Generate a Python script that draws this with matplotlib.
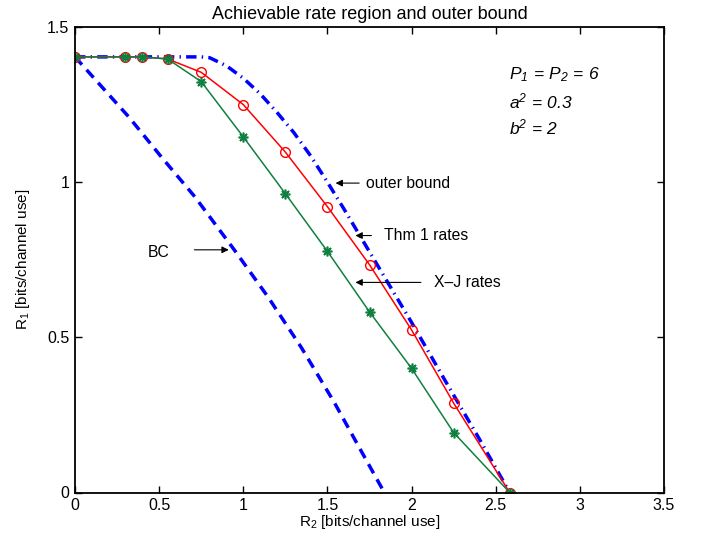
import matplotlib
matplotlib.use('Agg')
import matplotlib.pyplot as plt
import numpy as np

plt.rcParams['font.family'] = ['Liberation Sans', 'DejaVu Sans']
plt.rcParams['mathtext.fontset'] = 'custom'
plt.rcParams['mathtext.rm'] = 'Liberation Sans'
plt.rcParams['mathtext.it'] = 'Liberation Sans:italic'
plt.rcParams['mathtext.sf'] = 'Liberation Sans:italic'

# Thm 1 rates (red circles)
thm_r2 = [0, 0.3, 0.4, 0.55, 0.75, 1.0, 1.25, 1.5, 1.75, 2.0, 2.25, 2.583]
thm_r1 = [1.4037, 1.4037, 1.4037, 1.397, 1.354, 1.250, 1.097, 0.921, 0.734, 0.524, 0.288, 0.0]

# X-J rates (green stars)
xj_r2 = [0, 0.3, 0.4, 0.55, 0.75, 1.0, 1.25, 1.5, 1.75, 2.0, 2.25, 2.583]
xj_r1 = [1.4037, 1.4037, 1.4037, 1.397, 1.324, 1.146, 0.963, 0.777, 0.582, 0.400, 0.193, 0.0]

# outer bound (dash-dot)
ob_r2 = [0, 0.75, 0.8, 0.9, 1.0, 1.1, 1.2, 1.3, 1.4, 1.5, 1.6, 1.8, 2.0, 2.2, 2.4, 2.583]
ob_r1 = [1.4037, 1.4037, 1.401, 1.375, 1.335, 1.285, 1.225, 1.16, 1.085, 1.0, 0.912,
         0.73, 0.548, 0.36, 0.175, 0.0]

# BC region (dashed)
bc_r2 = [0, 0.12, 0.32, 0.515, 0.712, 0.949, 1.147, 1.344, 1.541, 1.689, 1.838]
bc_r1 = [1.4037, 1.331, 1.210, 1.080, 0.953, 0.780, 0.630, 0.468, 0.290, 0.145, 0.0]

xticks = [0, 0.5, 1, 1.5, 2, 2.5, 3, 3.5]
yticks = [0, 0.5, 1, 1.5]

fig = plt.figure(figsize=(7.04, 5.44), dpi=100)
ax = fig.add_axes([75/704, 1-492.5/544, (664-75)/704, (492.5-27)/544])

ax.plot(bc_r2, bc_r1, color='#0000ff', lw=2.5, linestyle=(0, (3, 2)))
ax.plot(ob_r2, ob_r1, color='#0000ff', lw=2.5, linestyle=(0, (3, 1.5, 0.4, 1.5)))
ax.plot(thm_r2, thm_r1, color='#ff0000', lw=1.1, marker='o', ms=7,
        mfc='none', mec='#ff0000', mew=1)
ax.plot(xj_r2, xj_r1, color='#108040', lw=1.1, marker=(8, 2, 0), ms=7,
        mfc='#108040', mec='#108040', mew=1.2)

ax.set_xlim(0, 3.5)
ax.set_ylim(0, 1.5)
ax.set_xticks(xticks)
ax.set_xticklabels(['0', '0.5', '1', '1.5', '2', '2.5', '3', '3.5'])
ax.set_yticks(yticks)
ax.set_yticklabels(['0', '0.5', '1', '1.5'])
ax.tick_params(direction='in', length=5, width=1, top=True, right=True,
               labelsize=11.5, pad=4)
for s in ax.spines.values():
    s.set_linewidth(1.3)

ax.set_title('Achievable rate region and outer bound', fontsize=13, pad=6)
ax.set_xlabel('R$_2$ [bits/channel use]', fontsize=11, labelpad=0)
ax.set_ylabel('R$_1$ [bits/channel use]', fontsize=11, labelpad=11)

arrow = dict(arrowstyle='-|>', color='black', lw=0.8, mutation_scale=10)
ax.annotate('', xy=(1.532, 0.997), xytext=(1.705, 0.997), arrowprops=arrow)
ax.text(1.729, 0.997, 'outer bound', fontsize=11.3, va='center')
ax.annotate('', xy=(1.650, 0.828), xytext=(1.778, 0.828), arrowprops=arrow)
ax.text(1.834, 0.828, 'Thm 1 rates', fontsize=11.3, va='center')
ax.annotate('', xy=(1.650, 0.677), xytext=(2.072, 0.677), arrowprops=arrow)
ax.text(2.131, 0.677, 'X\u2013J rates', fontsize=11.3, va='center')
ax.annotate('', xy=(0.930, 0.782), xytext=(0.693, 0.782), arrowprops=arrow)
ax.text(0.43, 0.772, 'BC', fontsize=11.3, va='center')

ax.text(2.58, 1.345, r'$\mathsf{P_1\,=\,P_2\,=\,6}$', fontsize=12.5, va='center')
ax.text(2.58, 1.26, r'$\mathsf{a^2\,=\,0.3}$', fontsize=12.5, va='center')
ax.text(2.58, 1.175, r'$\mathsf{b^2\,=\,2}$', fontsize=12.5, va='center')

fig.savefig('out.png', dpi=100)
